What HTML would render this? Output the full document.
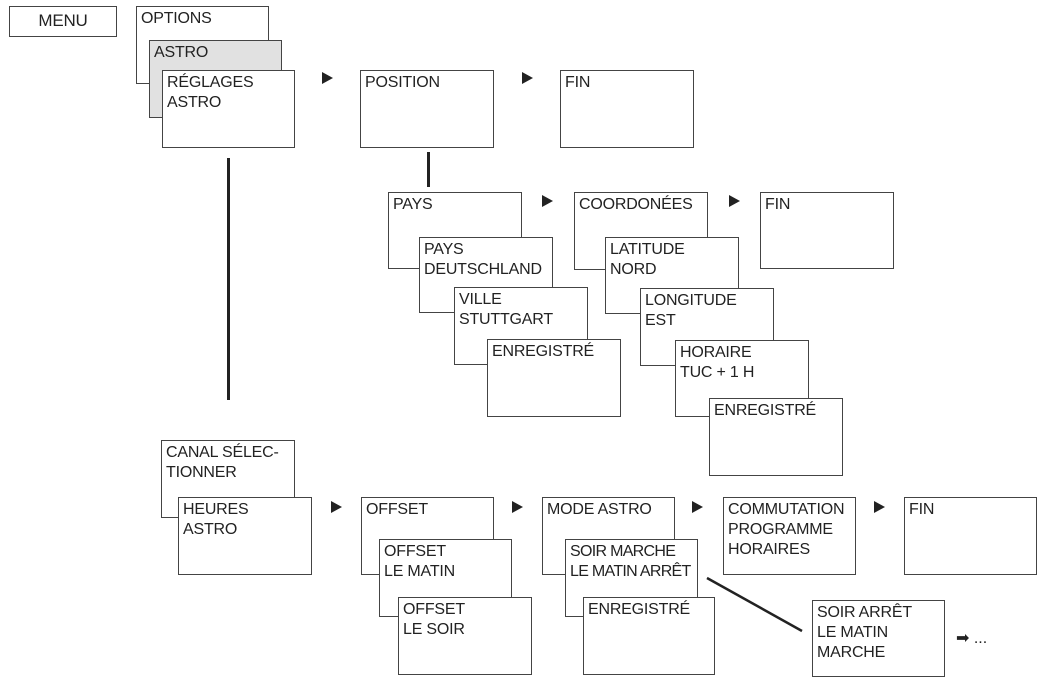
<!DOCTYPE html>
<html><head><meta charset="utf-8"><style>
body{margin:0;width:1043px;height:679px;background:#fff;position:relative;overflow:hidden;font-family:"Liberation Sans",sans-serif;}
.b{position:absolute;box-sizing:border-box;border:1.5px solid #444;background:#fff;font-size:16px;line-height:20px;color:#222;padding:2px 0 0 4px;white-space:nowrap;letter-spacing:-0.2px}
.g{background:#e1e1e1}
.a{position:absolute;width:0;height:0;border-top:6px solid transparent;border-bottom:6px solid transparent;border-left:11px solid #222}
.v{position:absolute;width:2.5px;background:#222}
</style></head><body>
<div class="b" style="left:9px;top:6px;width:108px;height:31px;font-size:17px;padding:4px 0 0 0;text-align:center">MENU</div>
<div class="b" style="left:136px;top:6px;width:133px;height:78px">OPTIONS</div>
<div class="b g" style="left:149px;top:40px;width:133px;height:78px">ASTRO</div>
<div class="b" style="left:162px;top:70px;width:133px;height:78px">RÉGLAGES<br>ASTRO</div>
<div class="a" style="left:322px;top:72px"></div>
<div class="b" style="left:360px;top:70px;width:134px;height:78px">POSITION</div>
<div class="a" style="left:522px;top:72px"></div>
<div class="b" style="left:560px;top:70px;width:134px;height:78px">FIN</div>
<div class="v" style="left:227px;top:158px;height:242px"></div>
<div class="v" style="left:427px;top:152px;height:35px"></div>

<div class="b" style="left:388px;top:192px;width:134px;height:77px">PAYS</div>
<div class="b" style="left:419px;top:237px;width:134px;height:76px">PAYS<br>DEUTSCHLAND</div>
<div class="b" style="left:454px;top:287px;width:134px;height:78px">VILLE<br>STUTTGART</div>
<div class="b" style="left:487px;top:339px;width:134px;height:78px">ENREGISTRÉ</div>
<div class="a" style="left:542px;top:195px"></div>
<div class="b" style="left:574px;top:192px;width:134px;height:78px">COORDONÉES</div>
<div class="b" style="left:605px;top:237px;width:134px;height:77px">LATITUDE<br>NORD</div>
<div class="b" style="left:640px;top:288px;width:134px;height:78px">LONGITUDE<br>EST</div>
<div class="b" style="left:675px;top:340px;width:134px;height:77px">HORAIRE<br>TUC + 1 H</div>
<div class="b" style="left:709px;top:398px;width:134px;height:78px">ENREGISTRÉ</div>
<div class="a" style="left:729px;top:195px"></div>
<div class="b" style="left:760px;top:192px;width:134px;height:77px">FIN</div>

<div class="b" style="left:161px;top:440px;width:134px;height:78px">CANAL SÉLEC-<br>TIONNER</div>
<div class="b" style="left:178px;top:497px;width:134px;height:78px">HEURES<br>ASTRO</div>
<div class="a" style="left:331px;top:501px"></div>
<div class="b" style="left:361px;top:497px;width:133px;height:78px">OFFSET</div>
<div class="b" style="left:379px;top:539px;width:133px;height:78px">OFFSET<br>LE MATIN</div>
<div class="b" style="left:398px;top:597px;width:134px;height:78px">OFFSET<br>LE SOIR</div>
<div class="a" style="left:512px;top:501px"></div>
<div class="b" style="left:542px;top:497px;width:133px;height:78px">MODE ASTRO</div>
<div class="b" style="left:565px;top:539px;width:133px;height:78px;letter-spacing:-0.7px">SOIR MARCHE<br>LE MATIN ARRÊT</div>
<div class="b" style="left:583px;top:597px;width:132px;height:78px">ENREGISTRÉ</div>
<div class="a" style="left:692px;top:501px"></div>
<div class="b" style="left:723px;top:497px;width:133px;height:78px">COMMUTATION<br>PROGRAMME<br>HORAIRES</div>
<div class="a" style="left:874px;top:501px"></div>
<div class="b" style="left:904px;top:497px;width:133px;height:78px">FIN</div>
<svg style="position:absolute;left:0;top:0" width="1043" height="679"><line x1="707" y1="578" x2="802" y2="631" stroke="#222" stroke-width="2.5"/></svg>
<div class="b" style="left:812px;top:600px;width:133px;height:77px">SOIR ARRÊT<br>LE MATIN<br>MARCHE</div>
<div style="position:absolute;left:956px;top:628px;font-size:16px;color:#222">➡ ...</div>
</body></html>
